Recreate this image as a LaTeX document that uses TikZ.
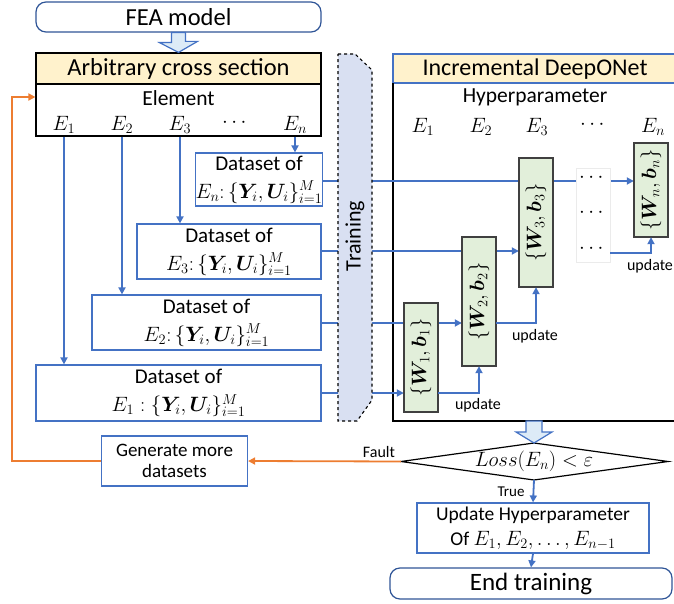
\documentclass[tikz,border=0pt]{standalone}
\usepackage{amsmath}
\usepackage{bm}
\usepackage{fontspec}
\setmainfont{Carlito}
\usetikzlibrary{arrows.meta}
\definecolor{cblue}{HTML}{4472C4}
\definecolor{cdblue}{HTML}{2F5597}
\definecolor{corange}{HTML}{ED7D31}
\definecolor{cyellow}{HTML}{FFF2CC}
\definecolor{cgreen}{HTML}{E2EFDA}
\definecolor{ctrain}{HTML}{D9E0F2}
\definecolor{carrow}{HTML}{DDEBF7}
\definecolor{cgrey}{HTML}{404040}
\begin{document}
\begin{tikzpicture}[x=1pt,y=-1pt,
  tip/.style={-{Triangle[length=7pt,width=7pt]}},
  conn/.style={draw=cblue, line width=1.8pt, tip},
  oconn/.style={draw=corange, line width=1.8pt},
  dsbox/.style={draw=cblue, line width=1.2pt, fill=white, align=center, inner sep=0pt, font=\fontsize{21}{28}\selectfont},
  wbox/.style={draw=cgrey, line width=1.2pt, fill=cgreen, inner sep=0pt, font=\fontsize{20}{24}\selectfont},
  hdr/.style={line width=1.2pt, fill=cyellow, inner sep=0pt},
  rbox/.style={draw=cdblue, line width=1.2pt, rounded corners=10pt, inner sep=0pt, font=\fontsize{24.5}{29}\selectfont},
  barrow/.style={draw=cblue, line width=1.2pt, fill=carrow},
  lbl/.style={inner sep=0pt, font=\fontsize{16}{19}\selectfont},
  mrow/.style={inner sep=0pt, font=\fontsize{22}{26}\selectfont},
  txt/.style={inner sep=0pt, font=\fontsize{21.5}{26}\selectfont},
  ]
\useasboundingbox (0,0) rectangle (674,604);
\newcommand{\dsm}[1]{{\fontsize{19.5}{22}\selectfont$#1$}}

% FEA model
\node[rbox, minimum width=285, minimum height=30] (fea) at (178.5,17) {FEA model};

% Arbitrary cross section box
\node[draw=black, line width=1.2pt, minimum width=285, minimum height=83, inner sep=0pt] (acsbox) at (178.5,94.5) {};
\node[hdr, draw=black, minimum width=285, minimum height=31, font=\fontsize{24.5}{29}\selectfont] (acshead) at (178.5,68.5) {Arbitrary cross section};
\node[txt] (elem) at (178.5,98) {Element};
\node[mrow] (e1) at (64,125) {$E_1$};
\node[mrow] (e2) at (122,125) {$E_2$};
\node[mrow] (e3) at (180,125) {$E_3$};
\node[mrow] (edots) at (236,123) {$\cdots$};
\node[mrow] (en) at (295,125) {$E_n$};

\draw[barrow] ([xshift=-7pt]fea.south) -- ++(0,10) -- ++(-12,0) -- (acshead.north) -- ++(19,-11) -- ++(-12,0) -- ([xshift=7pt]fea.south) -- cycle;

% Datasets
\node[dsbox, minimum width=124, minimum height=53] (dsn) at (259,179.5) {Dataset of\\\dsm{E_n{:}\,\{\bm{Y}_i,\bm{U}_i\}_{i=1}^{M}}};
\node[dsbox, minimum width=184, minimum height=55] (ds3) at (229,251.5) {Dataset of\\\dsm{E_3{:}\,\{\bm{Y}_i,\bm{U}_i\}_{i=1}^{M}}};
\node[dsbox, minimum width=229, minimum height=55] (ds2) at (206.5,322.5) {Dataset of\\\dsm{E_2{:}\,\{\bm{Y}_i,\bm{U}_i\}_{i=1}^{M}}};
\node[dsbox, minimum width=285, minimum height=56] (ds1) at (178.5,393) {Dataset of\\\dsm{E_1 : \{\bm{Y}_i,\bm{U}_i\}_{i=1}^{M}}};

\draw[conn] (acsbox.south -| e1) -- (ds1.north -| e1);
\draw[conn] (acsbox.south -| e2) -- (ds2.north -| e2);
\draw[conn] (acsbox.south -| e3) -- (ds3.north -| e3);
\draw[conn] (acsbox.south -| en) -- (dsn.north -| en);

% Incremental DeepONet frame (runs off the right edge)
\fill[cyellow] (393,54) rectangle (680,83);
\draw[cblue, line width=1.2pt] (680,54) -- (393,54) -- (393,83) -- (680,83);
\draw[black, line width=1.2pt] (393,83) -- (393,421) -- (680,421);
\node[inner sep=0pt, font=\fontsize{24}{29}\selectfont] (dhead) at (535,69) {Incremental DeepONet};
\node[txt] (hyp) at (535,97) {Hyperparameter};
\node[mrow] (h1) at (423,127) {$E_1$};
\node[mrow] (h2) at (481,127) {$E_2$};
\node[mrow] (h3) at (537,127) {$E_3$};
\node[mrow] (hdots) at (594,125) {$\cdots$};
\node[mrow] (hn) at (653,127) {$E_n$};
\coordinate (dbot) at (534,421);

% green parameter boxes (positions)
\node[minimum width=34, minimum height=109, inner sep=0pt] (w1) at (421,357.5) {};
\node[minimum width=34, minimum height=129, inner sep=0pt] (w2) at (479,301.5) {};
\node[minimum width=34, minimum height=129, inner sep=0pt] (w3) at (536,222.5) {};
\node[minimum width=34, minimum height=94, inner sep=0pt] (wn) at (651,190) {};

% row heights of the dataset connectors
\coordinate (yn) at (0,181);
\coordinate (y3) at (0,251);
\coordinate (y2) at (0,323);
\coordinate (y1) at (0,393);

% connectors from datasets (pass behind the boxes)
\draw[conn] (dsn.east |- yn) -- (wn.west |- yn);
\draw[conn] (ds3.east |- y3) -- (w3.west |- y3);
\draw[conn] (ds2.east |- y2) -- (w2.west |- y2);
\draw[conn] (ds1.east |- y1) -- (w1.west |- y1);

% boxes on top of the lines
\node[wbox, minimum width=109, minimum height=34, rotate=90] (w1t) at (w1) {$\{\bm{W}_1,\bm{b}_1\}$};
\node[wbox, minimum width=129, minimum height=34, rotate=90] (w2t) at (w2) {$\{\bm{W}_2,\bm{b}_2\}$};
\node[wbox, minimum width=129, minimum height=34, rotate=90] (w3t) at (w3) {$\{\bm{W}_3,\bm{b}_3\}$};
\node[wbox, minimum width=94, minimum height=34, rotate=90] (wnt) at (wn) {$\{\bm{W}_n,\bm{b}_n\}$};

% dots column
\node[draw={black!8}, fill=white, line width=0.8pt, minimum width=34, minimum height=94, inner sep=0pt] (dbox) at (593,215) {};
\node[mrow] (d1) at (593,178) {$\cdots$};
\node[mrow] (d2) at (593,213) {$\cdots$};
\node[mrow] (d3) at (593,249) {$\cdots$};

% Training band
\path[draw=black, dashed, line width=1.1pt, fill=ctrain] (338,54) -- (355,54) -- (372,70) -- (372,400) -- (357,421) -- (338,421) -- cycle;
\node[rotate=90, inner sep=0pt, font=\fontsize{22}{26}\selectfont] (train) at (355,236) {Training};

% update arrows
\draw[conn] (w1.east |- y1) -| (w2.south);
\node[lbl] (u1) at (478,405) {update};
\draw[conn] (w2.east |- y2) -| (w3.south);
\node[lbl] (u2) at (535,336) {update};
\coordinate (d3r) at (610,253);
\draw[conn] (d3r) -| (wn.south);
\node[lbl] (u3) at (650,266) {update};

% decision (diamond)
\coordinate (diaW) at (401,461.5);
\coordinate (diaN) at (534,443);
\coordinate (diaE) at (668,461.5);
\coordinate (diaS) at (534,480);
\draw[black, line width=1.2pt, fill=white] (diaW) -- (diaN) -- (diaE) -- (diaS) -- cycle;
\node[inner sep=0pt, font=\fontsize{22}{26}\selectfont] (dia) at (534,461.5) {$Loss(E_n) < \varepsilon$};
\draw[barrow] ([xshift=-8pt]dbot) -- ++(0,11) -- ++(-10,0) -- (diaN) -- ++(18,-11) -- ++(-10,0) -- ([xshift=8pt]dbot) -- cycle;

% Generate more datasets
\node[draw=cblue, line width=1.2pt, minimum width=146, minimum height=50, align=center, inner sep=0pt, font=\fontsize{19}{21}\selectfont] (gen) at (174.5,461) {Generate more\\datasets};
\draw[oconn, tip] (diaW) -- (gen.east);
\node[lbl] (fault) at (379,452) {Fault};
\coordinate (lp) at (12,97);
\draw[oconn, tip] (gen.west) -| (lp) -- (acsbox.west |- lp);

% Update hyperparameter
\node[draw=cblue, line width=1.2pt, minimum width=232, minimum height=50, align=center, inner sep=0pt, font=\fontsize{19.5}{25}\selectfont] (upd) at (533,528) {Update Hyperparameter\\Of $E_1,E_2,\ldots,E_{n-1}$};
\draw[conn] (diaS) -- (upd.north);
\node[lbl, font=\fontsize{15}{18}\selectfont] (true) at (511,492) {True};

% End training
\node[rbox, minimum width=282, minimum height=31, font=\fontsize{25}{30}\selectfont] (endt) at (531,583.5) {End training};
\draw[conn] (upd.south) -- (endt.north);
\end{tikzpicture}
\end{document}
